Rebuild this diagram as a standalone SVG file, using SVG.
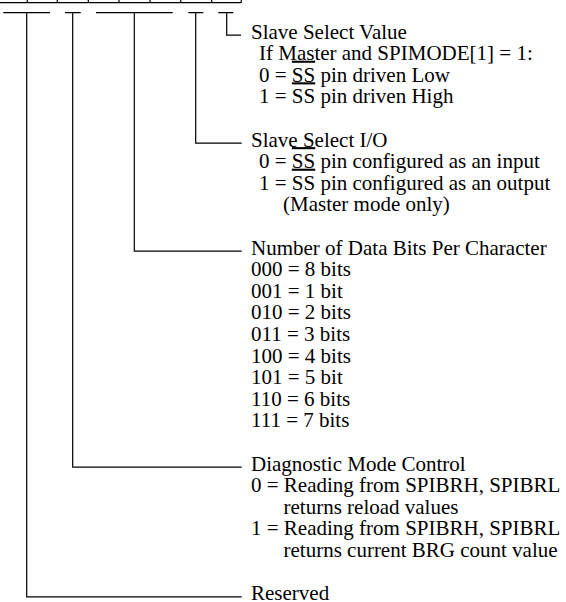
<svg xmlns="http://www.w3.org/2000/svg" width="566" height="602" viewBox="0 0 566 602">
<style>
.ln{stroke:#000;stroke-width:1.2;fill:none}
text{font-family:"Liberation Serif","Times New Roman",serif;font-size:21px;fill:#000}
.ov{text-decoration:overline}
</style>
<rect width="566" height="602" fill="#fff"/>
<g id="register">
<path class="ln" d="M0 2.7H241.3M27.3 0V2.7M57.3 0V2.7M88.3 0V2.7M119 0V2.7M150 0V2.7M180.7 0V2.7M211.7 0V2.7M241.3 0V2.7"/>
</g>
<g id="connectors">
<path class="ln" d="M3.3 12.7H50M26.7 12.7V596.8H241.7"/>
<path class="ln" d="M65 12.7H80.7M72.7 12.7V467.2H241.7"/>
<path class="ln" d="M96 12.7H172.7M134.3 12.7V251.2H241.7"/>
<path class="ln" d="M188.3 12.7H203.3M195.7 12.7V143.2H241.7"/>
<path class="ln" d="M218.3 12.7H233.3M226.7 12.7V35.2H241"/>
</g>
<g id="ss-value">
<text x="251" y="38.5">Slave Select Value</text>
<text x="259" y="60.1">If Master and SPIMODE[1] = 1:</text>
<text x="259" y="81.7">0 = <tspan class="ov">SS</tspan> pin driven Low</text>
<text x="259" y="103.3">1 = <tspan class="ov">SS</tspan> pin driven High</text>
</g>
<g id="ss-io">
<text x="251" y="146.5">Slave Select I/O</text>
<text x="259" y="168.1">0 = <tspan class="ov">SS</tspan> pin configured as an input</text>
<text x="259" y="189.7">1 = <tspan class="ov">SS</tspan> pin configured as an output</text>
<text x="283" y="211.3">(Master mode only)</text>
</g>
<g id="data-bits">
<text x="251" y="254.5">Number of Data Bits Per Character</text>
<text x="251" y="276.1">000 = 8 bits</text>
<text x="251" y="297.7">001 = 1 bit</text>
<text x="251" y="319.3">010 = 2 bits</text>
<text x="251" y="340.9">011 = 3 bits</text>
<text x="251" y="362.5">100 = 4 bits</text>
<text x="251" y="384.1">101 = 5 bit</text>
<text x="251" y="405.7">110 = 6 bits</text>
<text x="251" y="427.3">111 = 7 bits</text>
</g>
<g id="diagnostic">
<text x="251" y="470.5">Diagnostic Mode Control</text>
<text x="251" y="492.1">0 = Reading from SPIBRH, SPIBRL</text>
<text x="283.5" y="513.7">returns reload values</text>
<text x="251" y="535.3">1 = Reading from SPIBRH, SPIBRL</text>
<text x="283.5" y="556.9">returns current BRG count value</text>
</g>
<g id="reserved">
<text x="251" y="600.1">Reserved</text>
</g>
</svg>
